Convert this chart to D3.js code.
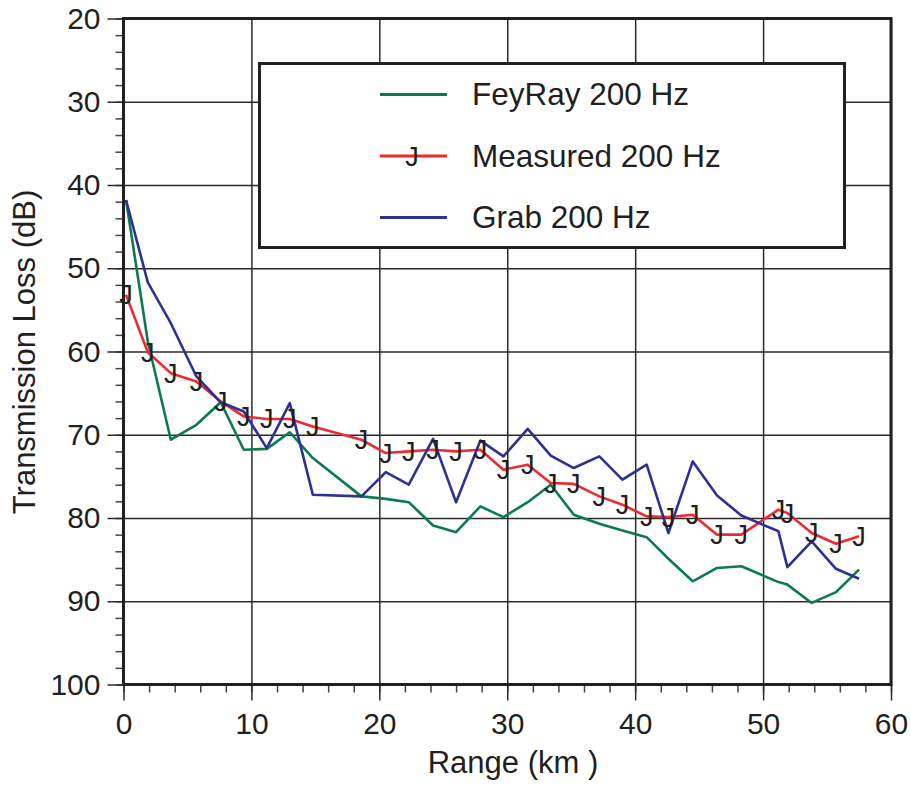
<!DOCTYPE html>
<meta charset="utf-8">
<script src="https://d3js.org/d3.v7.min.js"></script>
<style>
  body { margin: 0; background: #fff; }
  text { font-family: "Liberation Sans", Arial, sans-serif; fill: #231f20; }
</style>
<body>
<svg id="chart" width="911" height="786"></svg>
<script>
  // range in km, transmission loss in dB
  var rangeKm = [0.2, 1.9, 3.7, 5.7, 7.6, 9.4, 11.2, 13.0, 14.8, 18.6, 20.5, 22.3, 24.2, 26.0, 27.9,
                 29.7, 31.6, 33.4, 35.2, 37.2, 39.0, 40.9, 42.6, 44.5, 46.4, 48.3, 51.2, 51.9, 53.8, 55.7, 57.5];
  var feyRay  = [41.8, 58.8, 70.6, 68.8, 66.1, 71.8, 71.7, 69.7, 72.8, 77.4, 77.7, 78.1, 80.9, 81.7, 78.6,
                 79.9, 78.1, 76.0, 79.6, 80.7, 81.5, 82.3, 84.9, 87.6, 86.0, 85.8, 87.7, 88.0, 90.2, 88.9, 86.2];
  var measured = [53.2, 60.1, 62.6, 63.6, 66.0, 67.8, 68.1, 68.1, 69.0, 70.6, 72.2, 72.0, 71.8, 72.0, 71.8,
                  74.2, 73.6, 75.8, 75.9, 77.4, 78.4, 79.8, 79.9, 79.6, 82.0, 82.0, 79.0, 79.4, 81.8, 83.1, 82.2];
  var grab    = [41.8, 51.7, 56.6, 63.0, 66.1, 67.2, 71.6, 66.2, 77.2, 77.4, 74.5, 76.0, 70.5, 78.1, 70.7,
                 72.6, 69.3, 72.5, 74.0, 72.6, 75.4, 73.6, 81.8, 73.2, 77.3, 79.7, 81.6, 85.9, 82.8, 86.1, 87.3];

  var seriesNames = ["FeyRay 200 Hz", "Measured 200 Hz", "Grab 200 Hz"];
  var seriesColors = ["#0b7a4e", "#ee2a2f", "#2e3192"];
  var xTicks = [0, 10, 20, 30, 40, 50, 60];
  var yTicks = [20, 30, 40, 50, 60, 70, 80, 90, 100];

  var svg = d3.select("#chart");
  var plotL = 123.5, plotR = 891, plotT = 18.5, plotB = 684.5;

  var x = d3.scaleLinear().domain([0, 60]).range([plotL, plotR]);
  var y = d3.scaleLinear().domain([20, 100]).range([plotT, plotB]);

  // grid
  svg.append("g")
    .attr("transform", "translate(0," + plotB + ")")
    .call(d3.axisBottom(x).tickValues(xTicks).tickSize(-(plotB - plotT)).tickFormat(""))
    .call(g => g.select(".domain").remove())
    .selectAll("line").attr("stroke", "#2b2b2b").attr("stroke-width", 1.5);
  svg.append("g")
    .attr("transform", "translate(" + plotL + ",0)")
    .call(d3.axisLeft(y).tickValues(yTicks).tickSize(-(plotR - plotL)).tickFormat(""))
    .call(g => g.select(".domain").remove())
    .selectAll("line").attr("stroke", "#2b2b2b").attr("stroke-width", 1.5);

  // minor ticks
  svg.append("g")
    .attr("transform", "translate(0," + plotB + ")")
    .call(d3.axisBottom(x).tickValues(d3.range(0, 61, 2)).tickSize(8).tickFormat(""))
    .call(g => g.select(".domain").remove())
    .selectAll("line").attr("stroke", "#444").attr("stroke-width", 1.5);
  svg.append("g")
    .attr("transform", "translate(" + plotL + ",0)")
    .call(d3.axisLeft(y).tickValues(d3.range(20, 101, 2)).tickSize(8).tickFormat(""))
    .call(g => g.select(".domain").remove())
    .selectAll("line").attr("stroke", "#444").attr("stroke-width", 1.5);

  // major ticks + labels
  var xAxis = svg.append("g")
    .attr("transform", "translate(0," + plotB + ")")
    .call(d3.axisBottom(x).tickValues(xTicks).tickSize(16).tickPadding(12))
    .call(g => g.select(".domain").remove());
  xAxis.selectAll("line").attr("stroke", "#2b2b2b").attr("stroke-width", 1.5);
  xAxis.selectAll("text").attr("font-size", 30).attr("font-family", "Liberation Sans, Arial, sans-serif").attr("fill", "#231f20");

  var yAxis = svg.append("g")
    .attr("transform", "translate(" + plotL + ",0)")
    .call(d3.axisLeft(y).tickValues(yTicks).tickSize(16).tickPadding(7))
    .call(g => g.select(".domain").remove());
  yAxis.selectAll("line").attr("stroke", "#2b2b2b").attr("stroke-width", 1.5);
  yAxis.selectAll("text").attr("font-size", 30).attr("font-family", "Liberation Sans, Arial, sans-serif").attr("fill", "#231f20");

  // frame
  svg.append("rect")
    .attr("x", plotL).attr("y", plotT)
    .attr("width", plotR - plotL).attr("height", plotB - plotT)
    .attr("fill", "none").attr("stroke", "#231f20").attr("stroke-width", 3);

  // lines
  var line = d3.line().x(d => x(d[0])).y(d => y(d[1]));
  [feyRay, measured, grab].forEach(function(vals, i) {
    svg.append("path")
      .datum(d3.zip(rangeKm, vals))
      .attr("fill", "none")
      .attr("stroke", seriesColors[i])
      .attr("stroke-width", 2.6)
      .attr("stroke-linejoin", "round")
      .attr("d", line);
  });

  // measured markers
  svg.append("g").selectAll("text")
    .data(d3.zip(rangeKm, measured))
    .enter().append("text")
      .attr("x", d => x(d[0]))
      .attr("y", d => y(d[1]) + 9.5)
      .attr("text-anchor", "middle")
      .attr("font-size", 27)
      .text("J");

  // legend
  var lg = svg.append("g");
  lg.append("rect")
    .attr("x", 259.5).attr("y", 63.5).attr("width", 585).attr("height", 184)
    .attr("fill", "#fff").attr("stroke", "#231f20").attr("stroke-width", 3);
  var rowY = [94.5, 156, 217.5];
  seriesNames.forEach(function(name, i) {
    lg.append("line")
      .attr("x1", 380).attr("x2", 447).attr("y1", rowY[i]).attr("y2", rowY[i])
      .attr("stroke", seriesColors[i]).attr("stroke-width", 3);
    if (i == 1) {
      lg.append("text").attr("x", 412).attr("y", rowY[i] + 9.5)
        .attr("text-anchor", "middle").attr("font-size", 27).text("J");
    }
    lg.append("text")
      .attr("x", 472).attr("y", rowY[i] + 10.5)
      .attr("font-size", 31.5)
      .text(name);
  });

  // axis titles
  svg.append("text")
    .attr("x", 513).attr("y", 773)
    .attr("text-anchor", "middle")
    .attr("font-size", 31)
    .text("Range (km )");
  svg.append("text")
    .attr("transform", "translate(35,352) rotate(-90)")
    .attr("text-anchor", "middle")
    .attr("font-size", 31)
    .text("Transmission Loss (dB)");
</script>
</body>
